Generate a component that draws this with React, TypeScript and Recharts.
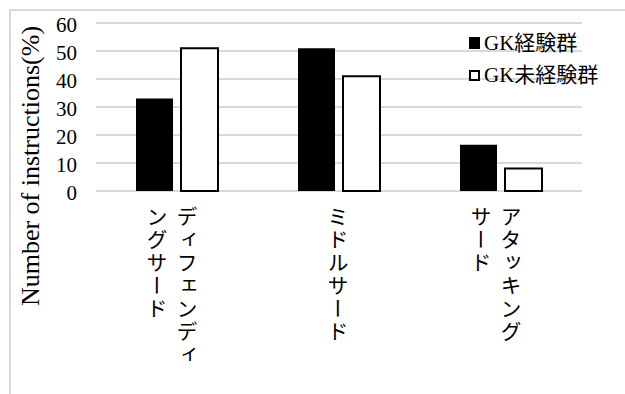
import React from 'react';
import { BarChart, Bar, XAxis, YAxis, CartesianGrid, Legend } from 'recharts';

const categories = ['ディフェンディングサード', 'ミドルサード', 'アタッキングサード'];
const labelLines = [['ディフェンディ', 'ングサード'], ['ミドルサード'], ['アタッキング', 'サード']];
const experienced = [33, 51, 16.5];
const inexperienced = [51, 41, 8];
const yTicks = [0, 10, 20, 30, 40, 50, 60];
const seriesNames = ['GK経験群', 'GK未経験群'];

const chartData = categories.map((name, i) => ({
  name,
  exp: experienced[i],
  inexp: inexperienced[i],
}));

const FONT = "'Liberation Serif', 'Noto Sans CJK JP', serif";
const GRID = '#d9d9d9';

function CategoryTick(props: any) {
  const { x, y, index } = props;
  const lines = labelLines[index] || [];
  // columns go right-to-left like vertical Japanese text
  const offsets = lines.length === 2 ? [10, -20] : [-1];
  return (
    <g>
      {lines.map((line, i) => (
        <text
          key={i}
          x={x + offsets[i]}
          y={y + 15}
          fontFamily="'Noto Sans CJK JP', sans-serif"
          fontSize={21}
          fill="#000"
          style={{ writingMode: 'vertical-rl', letterSpacing: 2 }}
        >
          {line}
        </text>
      ))}
    </g>
  );
}

function LegendBox() {
  return (
    <div style={{ fontFamily: FONT, fontSize: 21, color: '#000', lineHeight: '32px' }}>
      {seriesNames.map((n, i) => (
        <div key={n} style={{ display: 'flex', alignItems: 'center' }}>
          <span
            style={{
              display: 'inline-block',
              width: i === 0 ? 11 : 7,
              height: i === 0 ? 12 : 7,
              background: i === 0 ? '#000' : '#fff',
              border: i === 0 ? 'none' : '2px solid #000',
              marginRight: 4,
            }}
          />
          <span>{n}</span>
        </div>
      ))}
    </div>
  );
}

export default function App() {
  return (
    <div style={{ position: 'absolute', left: 0, top: 0, width: 625, height: 394, background: '#fff', overflow: 'hidden' }}>
      <div
        style={{
          position: 'absolute',
          left: 9,
          top: 9,
          width: 640,
          height: 420,
          borderTop: `2px solid ${GRID}`,
          borderLeft: `2px solid ${GRID}`,
        }}
      />
      <div style={{ position: 'absolute', left: 0, top: 0 }}>
        <BarChart
          width={625}
          height={394}
          data={chartData}
          margin={{ top: 23, right: 43, left: 0, bottom: 23 }}
          barGap={8}
          barSize={37}
        >
          <CartesianGrid vertical={false} stroke={GRID} strokeWidth={2} />
          <XAxis
            dataKey="name"
            axisLine={false}
            tickLine={false}
            tickSize={0}
            tickMargin={0}
            height={180}
            interval={0}
            tick={<CategoryTick />}
          />
          <YAxis
            width={96}
            domain={[0, 60]}
            ticks={yTicks}
            interval={0}
            axisLine={false}
            tickLine={false}
            tickSize={0}
            tickMargin={19}
            tick={{ fontFamily: FONT, fontSize: 21, fill: '#000', dy: 2 }}
            label={() => (
              <text
                x={30}
                y={166}
                transform="rotate(-90 30 166)"
                textAnchor="middle"
                dominantBaseline="central"
                fontFamily={FONT}
                fontSize={26}
                fill="#000"
              >
                Number of instructions(%)
              </text>
            )}
          />
          <Legend
            layout="vertical"
            verticalAlign="middle"
            align="center"
            content={() => <LegendBox />}
            wrapperStyle={{ position: 'absolute', top: 27, left: 469, width: 150 }}
          />
          <Bar dataKey="exp" name={seriesNames[0]} fill="#000" isAnimationActive={false} />
          <Bar dataKey="inexp" name={seriesNames[1]} fill="#fff" stroke="#000" strokeWidth={2} isAnimationActive={false} />
        </BarChart>
      </div>
    </div>
  );
}
